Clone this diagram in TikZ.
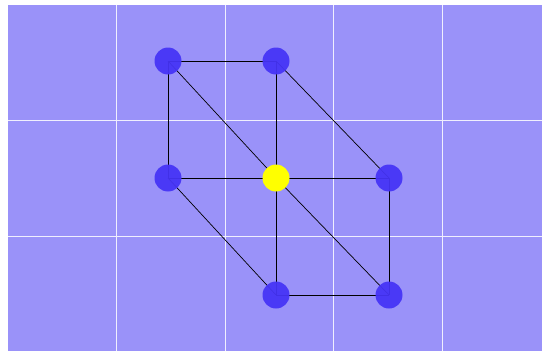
\documentclass[tikz,border=0pt]{standalone}
\usepackage{tikz}
\usetikzlibrary{positioning,calc}
\definecolor{gridbg}{RGB}{154,146,249}
\definecolor{vertblue}{RGB}{70,52,246}
\definecolor{vertyellow}{RGB}{255,255,0}
\pgfdeclarelayer{bg}
\pgfdeclarelayer{edges}
\pgfsetlayers{bg,edges,main}

\begin{document}
\begin{tikzpicture}[
    x=1pt, y=-1pt,
    vert/.style={circle, draw=none, fill=vertblue, fill opacity=0.94, minimum size=27pt, inner sep=0pt},
    centre/.style={vert, fill=vertyellow, fill opacity=1},
    edge/.style={black, line width=0.7pt}
]
\useasboundingbox (0,0) rectangle (542,351);

% Hintergrund mit Gitter
\begin{pgfonlayer}{bg}
\fill[gridbg] (8,5) rectangle (542,351);
\foreach \x in {116.5,225,333.5,442} {
    \draw[white!85!gridbg, line width=0.8pt] (\x,5) -- (\x,351);
}
\foreach \y in {120.5,236} {
    \draw[white!85!gridbg, line width=0.8pt] (8,\y) -- (542,\y);
}
\end{pgfonlayer}

% Knoten
\node[vert] (tl) at (168,61) {};
\node[vert] (tm) at (276,61) {};
\node[vert] (ml) at (168,178) {};
\node[centre] (mm) at (276,178) {};
\node[vert] (mr) at (389,178) {};
\node[vert] (bm) at (276,295) {};
\node[vert] (br) at (389,295) {};

% Kanten
\begin{pgfonlayer}{edges}
\foreach \a/\b in {tl/tm, tl/ml, tl/mm, tm/mm, tm/mr, ml/mm, mm/mr, ml/bm, mm/bm, mm/br, mr/br, bm/br} {
    \draw[edge] (\a.center) -- (\b.center);
}
\end{pgfonlayer}

\end{tikzpicture}
\end{document}
